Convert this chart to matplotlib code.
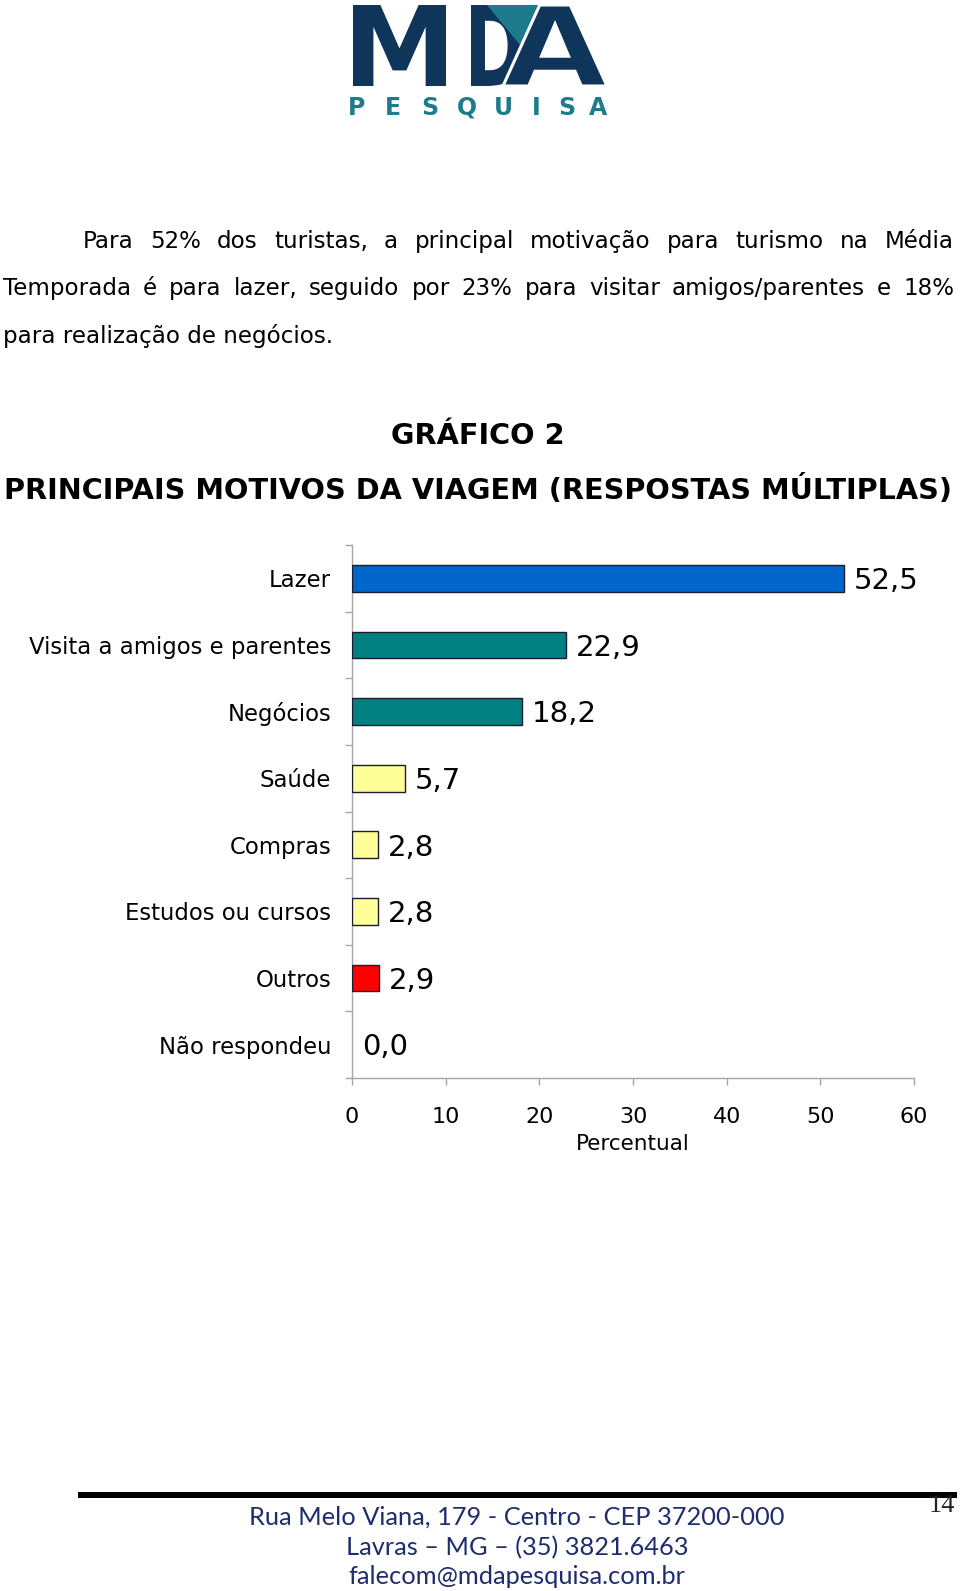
import numpy as np
import matplotlib
matplotlib.use("Agg")
import matplotlib.pyplot as plt
from matplotlib import font_manager
from matplotlib.textpath import TextPath
from matplotlib.patches import PathPatch, Polygon
from matplotlib.font_manager import FontProperties
from matplotlib.transforms import Affine2D

# ---------------- data ----------------
categories = ["Lazer", "Visita a amigos e parentes", "Negócios", "Saúde",
              "Compras", "Estudos ou cursos", "Outros", "Não respondeu"]
values = [52.5, 22.9, 18.2, 5.7, 2.8, 2.8, 2.9, 0.0]
bar_colors = ["#0066cc", "#008080", "#008080", "#ffff99",
              "#ffff99", "#ffff99", "#ff0000", "#ffff99"]
xticks = [0, 10, 20, 30, 40, 50, 60]
xlabel = "Percentual"
title1 = "GRÁFICO 2"
title2 = "PRINCIPAIS MOTIVOS DA VIAGEM (RESPOSTAS MÚLTIPLAS)"
para_lines = [
    "Para 52% dos turistas, a principal motivação para turismo na Média",
    "Temporada é para lazer, seguido por 23% para visitar amigos/parentes e 18%",
    "para realização de negócios.",
]
footer_lines = [
    "Rua Melo Viana, 179 - Centro - CEP 37200-000",
    "Lavras – MG – (35) 3821.6463",
    "falecom@mdapesquisa.com.br",
]
page_number = "14"

# ---------------- figure ----------------
W, H = 960, 1591
fig = plt.figure(figsize=(9.6, 15.91), dpi=100)
fig.patch.set_facecolor("white")
renderer = fig.canvas.get_renderer()

bg = fig.add_axes([0, 0, 1, 1])
bg.set_xlim(0, W)
bg.set_ylim(H, 0)
bg.axis("off")

installed = {f.name for f in font_manager.fontManager.ttflist}


def text_width(s, size, **kw):
    t = bg.text(0, 0, s, fontsize=size, **kw)
    w = t.get_window_extent(renderer).width
    t.remove()
    return w


def fit(s, target, **kw):
    return 10.0 * target / text_width(s, 10, **kw)


def justified(line, x0, x1, ybase, size, **kw):
    words = line.split()
    widths = [text_width(w, size, **kw) for w in words]
    gap = (x1 - x0 - sum(widths)) / (len(words) - 1)
    x = x0
    for w, wd in zip(words, widths):
        bg.text(x, ybase, w, fontsize=size, ha="left", va="baseline", **kw)
        x += wd + gap


# ---------------- logo ----------------
navy = "#10355a"
teal = "#1e7b8c"


def draw_glyph(ch, box, color, prop, ec="none", lw=0.0, z=2):
    tp = TextPath((0, 0), ch, size=100, prop=prop)
    ext = tp.get_extents()
    sx = (box[2] - box[0]) / ext.width
    sy = (box[3] - box[1]) / ext.height
    tr = Affine2D().translate(-ext.x0, -ext.y0).scale(sx, -sy).translate(box[0], box[3])
    p = tr.transform_path(tp)
    bg.add_patch(PathPatch(p, facecolor=color, edgecolor=ec, lw=lw, zorder=z))


bold_prop = FontProperties(family="DejaVu Sans", weight="bold")
draw_glyph("M", (353, 5, 446, 86), navy, bold_prop)
draw_glyph("D", (471, 5, 522, 86), navy, bold_prop)
bg.add_patch(Polygon([(487, 5), (550, 5), (538, 36), (532, 47), (527, 37), (520, 45)],
                     closed=True, facecolor=teal, edgecolor="none", zorder=3))
draw_glyph("A", (503, 5, 607, 86), navy, bold_prop, ec="white", lw=2.2, z=4)

pesq = "PESQUISA"
pesq_x = [357, 393, 430, 467, 503, 536, 567, 598]
for ch, x in zip(pesq, pesq_x):
    bg.text(x, 115, ch, fontsize=17, fontweight="bold", color=teal,
            ha="center", va="baseline", family="DejaVu Sans")

# ---------------- paragraph ----------------
psize = fit(para_lines[2], 330)
justified(para_lines[0], 83, 954, 248, psize, color="black")
justified(para_lines[1], 3, 954, 295, psize, color="black")
bg.text(3, 343, para_lines[2], fontsize=psize, ha="left", va="baseline", color="black")

# ---------------- titles ----------------
tsize = fit(title2, 951, fontweight="bold")
bg.text(478.5, 499, title2, fontsize=tsize, fontweight="bold", ha="center", va="baseline")
bg.text(478, 444, title1, fontsize=tsize, fontweight="bold", ha="center", va="baseline")

# ---------------- chart ----------------
ax = fig.add_axes([352 / W, 1 - 1078 / H, 562 / W, 533 / H])
ax.set_facecolor("none")
ypos = np.arange(len(categories))
edge_widths = [1.0 if v > 0 else 0.0 for v in values]
ax.barh(ypos, values, height=0.4, color=bar_colors, edgecolor="#1c1c30",
        linewidth=edge_widths, zorder=3)
ax.set_xlim(0, 60)
ax.set_ylim(len(categories) - 0.5, -0.5)

gray = "#a6a6a6"
for s in ["top", "right"]:
    ax.spines[s].set_visible(False)
for s in ["left", "bottom"]:
    ax.spines[s].set_color(gray)
    ax.spines[s].set_linewidth(1.0)

ax.set_xticks(xticks)
ax.set_xticklabels([str(t) for t in xticks])
ax.tick_params(axis="x", direction="out", length=5, width=1, color=gray,
               labelsize=16, pad=16, labelcolor="black")

ax.set_yticks(np.arange(-0.5, len(categories), 1.0))
ax.set_yticklabels([])
ax.set_yticks(ypos, minor=True)
csize = fit(categories[1], 302)
ax.set_yticklabels(categories, minor=True, fontsize=csize)
ax.tick_params(axis="y", which="major", direction="out", length=5, width=1, color=gray)
ax.tick_params(axis="y", which="minor", length=0, pad=15)

if "Liberation Sans Narrow" in installed:
    vfam, vsize = "Liberation Sans Narrow", 25
else:
    vfam, vsize = "DejaVu Sans", 21
for i, v in enumerate(values):
    ax.annotate(f"{v:.1f}".replace(".", ","), xy=(v, i), xytext=(7, -2),
                textcoords="offset points", va="center", ha="left",
                fontsize=vsize, family=vfam, color="black", zorder=4)

bg.text(633, 1144, xlabel, fontsize=15.5, ha="center", va="center", color="black")

# ---------------- footer ----------------
bg.plot([78, 957], [1495, 1495], color="black", lw=6 * 0.72, solid_capstyle="butt")
fcolor = "#1f2d6e"
ffam = ["Lato", "DejaVu Sans"]
fsize = fit(footer_lines[0], 533, family=ffam)
for line, yc in zip(footer_lines, [1517, 1548, 1577]):
    bg.text(517, yc, line, fontsize=fsize, ha="center", va="center", color=fcolor,
            family=ffam)
bg.text(941.5, 1506, page_number, fontsize=19, ha="center", va="center",
        family=["Liberation Serif", "DejaVu Serif"], color="#222222")

fig.savefig("out.png", dpi=100, facecolor="white")
